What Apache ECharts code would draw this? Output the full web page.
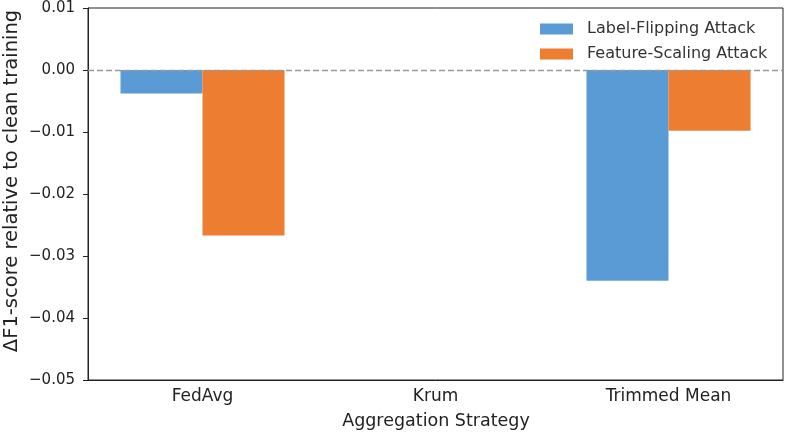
<!DOCTYPE html>
<html>
<head>
<meta charset="utf-8">
<script src="https://cdn.jsdelivr.net/npm/echarts@6/dist/echarts.min.js"></script>
<style>html,body{margin:0;padding:0;background:#fff}#c{width:787px;height:434px}</style>
</head>
<body>
<div id="c"></div>
<script>
const categories = ['FedAvg', 'Krum', 'Trimmed Mean'];
const labelFlipping = [-0.0038, 0, -0.034];
const featureScaling = [-0.0267, 0, -0.0098];
const yTicks = [0.01, 0.00, -0.01, -0.02, -0.03, -0.04, -0.05];
const seriesNames = ['Label-Flipping Attack', 'Feature-Scaling Attack'];
const xTitle = 'Aggregation Strategy';
const yTitle = 'ΔF1-score relative to clean training';

const font = 'DejaVu Sans';
const txt = '#222';
const chart = echarts.init(document.getElementById('c'));
const fmt = v => {
  const t = yTicks.find(x => Math.abs(x - v) < 1e-9);
  const val = t === undefined ? v : t;
  const s = Math.abs(val).toFixed(2);
  return val < -1e-9 ? '\u2212' + s : s;
};
chart.setOption({
  animation: false,
  grid: [
    { left: 88, right: 4, top: 8, bottom: 54, show: true, borderColor: '#222', borderWidth: 1, backgroundColor: 'transparent' },
    { left: 86, right: 2, top: 8, bottom: 54 }
  ],
  legend: {
    orient: 'vertical', left: 540, top: 21, padding: 0,
    itemWidth: 33, itemHeight: 11, itemGap: 9,
    textStyle: { fontFamily: font, fontSize: 16, color: '#333', lineHeight: 16, padding: [0, 0, 0, 9] },
    icon: 'rect',
    data: seriesNames
  },
  graphic: [
    {
      type: 'text', x: 12, y: 181, rotation: Math.PI / 2,
      style: { text: yTitle, font: '19.5px "DejaVu Sans"', fill: txt, align: 'center', verticalAlign: 'middle' }
    },
    {
      type: 'text', x: 436, y: 421,
      style: { text: xTitle, font: '17.5px "DejaVu Sans"', fill: txt, align: 'center', verticalAlign: 'middle' }
    }
  ],
  xAxis: [
    {
      gridIndex: 0, type: 'category', data: categories,
      axisLine: { onZero: false, lineStyle: { color: '#222' } },
      axisTick: { show: false }, axisLabel: { show: false }
    },
    {
      gridIndex: 1, type: 'category', data: categories,
      axisLine: { show: false, onZero: false },
      axisTick: { alignWithLabel: true, length: 5, lineStyle: { color: '#222' } },
      axisLabel: { fontFamily: font, fontSize: 17, color: txt, margin: 8 }
    }
  ],
  yAxis: [
    {
      gridIndex: 0, type: 'value', min: -0.05, max: 0.01, interval: 0.01,
      axisLine: { show: true, lineStyle: { color: '#222' } },
      axisTick: { show: true, length: 5, lineStyle: { color: '#222' } },
      splitLine: { show: false },
      axisLabel: { fontFamily: font, fontSize: 15, color: txt, margin: 13, formatter: fmt }
    },
    {
      gridIndex: 1, type: 'value', min: -0.05, max: 0.01, interval: 0.01,
      show: false, splitLine: { show: false }
    }
  ],
  series: [
    {
      name: seriesNames[0], type: 'bar', data: labelFlipping,
      xAxisIndex: 1, yAxisIndex: 1,
      barWidth: 82, barGap: '0%',
      itemStyle: { color: '#5b9bd5' }
    },
    {
      name: seriesNames[1], type: 'bar', data: featureScaling,
      xAxisIndex: 1, yAxisIndex: 1,
      barWidth: 82, barGap: '0%',
      itemStyle: { color: '#ed7d31' }
    },
    {
      name: 'zero', type: 'line', data: [null, null, null],
      xAxisIndex: 0, yAxisIndex: 0, z: 5, symbol: 'none',
      markLine: {
        silent: true, symbol: 'none', label: { show: false }, z: 5,
        lineStyle: { type: [6, 3], color: '#999', width: 1.3 },
        data: [{ yAxis: 0 }]
      }
    }
  ]
});
</script>
</body>
</html>
